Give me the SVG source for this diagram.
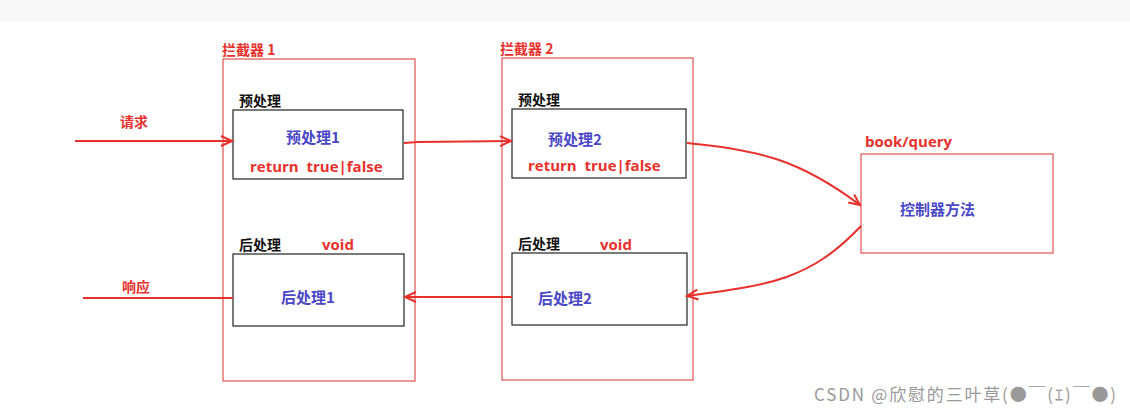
<svg xmlns="http://www.w3.org/2000/svg" width="1130" height="413" viewBox="0 0 1130 413">
<defs>
<style>
.cn{font-family:"Noto Sans CJK SC","Liberation Sans",sans-serif;font-weight:bold}
.en{font-family:"Open Sans","Liberation Sans",sans-serif;font-weight:bold}
.red{fill:#e8302c}.blue{fill:#4a47c8}.blk{fill:#111}
.box{fill:#fff;stroke:#222;stroke-width:1.2}
.ibox{fill:none;stroke:#e05050;stroke-width:1.2}
.ln{fill:none;stroke:#e8302c;stroke-width:2}
</style>
<marker id="a" markerWidth="14" markerHeight="12" refX="12" refY="6" orient="auto" markerUnits="userSpaceOnUse">
<path d="M1,1 L12,6 L1,11" fill="none" stroke="#e8302c" stroke-width="2"/>
</marker>
</defs>
<rect width="1130" height="413" fill="#fff"/>
<rect width="1130" height="22" fill="#f8f8f8"/>
<g id="interceptor1">
<rect class="ibox" x="223" y="59" width="192" height="322"/>
<text class="cn red" x="222" y="55" font-size="14">拦截器 1</text>
</g>
<g id="pre1">
<text class="cn blk" x="239" y="106" font-size="14">预处理</text>
<rect class="box" x="233" y="110" width="170" height="69"/>
<text class="cn blue" x="286" y="143" font-size="15">预处理1</text>
<text class="en red" x="250" y="172" font-size="15" xml:space="preserve">return  true|false</text>
</g>
<g id="post1">
<text class="cn blk" x="239" y="250" font-size="14">后处理</text>
<text class="en red" x="322" y="250" font-size="15">void</text>
<rect class="box" x="233" y="254" width="171" height="72"/>
<text class="cn blue" x="281" y="303" font-size="15">后处理1</text>
</g>
<g id="interceptor2">
<rect class="ibox" x="502" y="58" width="191" height="322"/>
<text class="cn red" x="500" y="54" font-size="14">拦截器 2</text>
</g>
<g id="pre2">
<text class="cn blk" x="518" y="105" font-size="14">预处理</text>
<rect class="box" x="512" y="109" width="174" height="69"/>
<text class="cn blue" x="548" y="145" font-size="15">预处理2</text>
<text class="en red" x="528" y="171" font-size="15" xml:space="preserve">return  true|false</text>
</g>
<g id="post2">
<text class="cn blk" x="518" y="249" font-size="14">后处理</text>
<text class="en red" x="600" y="250" font-size="15">void</text>
<rect class="box" x="512" y="253" width="175" height="72"/>
<text class="cn blue" x="538" y="304" font-size="15">后处理2</text>
</g>
<g id="controller">
<text class="en red" x="865" y="147" font-size="15">book/query</text>
<rect class="ibox" x="861" y="154" width="192" height="99"/>
<text class="cn blue" x="900" y="215" font-size="15">控制器方法</text>
</g>
<g id="labels">
<text class="cn red" x="120" y="127" font-size="14">请求</text>
<text class="cn red" x="122" y="292" font-size="14">响应</text>
</g>
<g id="connectors">
<path class="ln" d="M75,141 L232,141" marker-end="url(#a)"/>
<path class="ln" d="M404,143 L418,142 L511,141" marker-end="url(#a)"/>
<path class="ln" d="M687,143 C760,150 800,160 860,205" marker-end="url(#a)"/>
<path class="ln" d="M861,226 C810,280 770,285 687,296" marker-end="url(#a)"/>
<path class="ln" d="M512,297 L405,297" marker-end="url(#a)"/>
<path class="ln" d="M233,298 L83,298"/>
</g>
<text x="814" y="401" font-family="Noto Sans CJK SC,Liberation Sans,sans-serif" font-size="17" fill="#999" textLength="302">CSDN @欣慰的三叶草(●￣(ｴ)￣●)</text>
</svg>
